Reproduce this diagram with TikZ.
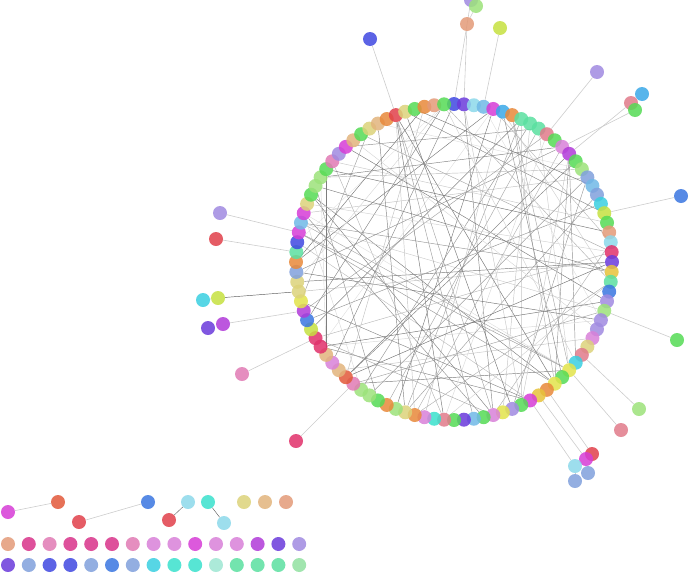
\documentclass[tikz,border=0pt]{standalone}
\usetikzlibrary{backgrounds}
\definecolor{kblu}{HTML}{4048E0}
\definecolor{kbvi}{HTML}{6A3ADB}
\definecolor{klcy}{HTML}{8CD8EA}
\definecolor{ksky}{HTML}{70B8E6}
\definecolor{kmag}{HTML}{D63CD6}
\definecolor{kdsk}{HTML}{3AA8E8}
\definecolor{korg}{HTML}{E8883A}
\definecolor{kaqu}{HTML}{5ADFA0}
\definecolor{kros}{HTML}{E07A8A}
\definecolor{kgrn}{HTML}{55DA55}
\definecolor{korc}{HTML}{D880D8}
\definecolor{kppl}{HTML}{B03AD8}
\definecolor{klgr}{HTML}{9CE27A}
\definecolor{kstb}{HTML}{80A0DC}
\definecolor{kcyn}{HTML}{3ACFE0}
\definecolor{kylg}{HTML}{C6E040}
\definecolor{ksal}{HTML}{E39A78}
\definecolor{kcrm}{HTML}{E0306A}
\definecolor{kgld}{HTML}{E6C23A}
\definecolor{kroy}{HTML}{3A76E0}
\definecolor{klav}{HTML}{A08AE0}
\definecolor{kkha}{HTML}{DCD27A}
\definecolor{kyel}{HTML}{E2E34A}
\definecolor{ktur}{HTML}{3AE0CC}
\definecolor{kpnk}{HTML}{E07AB4}
\definecolor{kror}{HTML}{E2583A}
\definecolor{ktan}{HTML}{E2B47C}
\definecolor{kred}{HTML}{E0404A}
\definecolor{kdpk}{HTML}{D8328A}
\definecolor{kpaq}{HTML}{9EE6D2}
\definecolor{kpgr}{HTML}{90E0A0}
\begin{document}
\begin{tikzpicture}[x=1pt,y=-1pt,
  dot/.style={circle,fill=#1,fill opacity=0.85,draw=none,minimum size=14pt,inner sep=0pt},
  edge/.style={black!#1,line width=0.45pt},
  spoke/.style={black!20,line width=0.6pt}]
\useasboundingbox (0,0) rectangle (692,576);
% ring of genes
\foreach \c [count=\k from 0] in {blu,bvi,lcy,sky,mag,dsk,org,aqu,aqu,aqu,
    ros,grn,orc,ppl,grn,lgr,stb,sky,stb,cyn,ylg,grn,sal,lcy,crm,bvi,gld,aqu,roy,lav,
    lgr,lav,lav,orc,kha,ros,cyn,yel,grn,yel,org,gld,mag,grn,lav,yel,orc,grn,sky,bvi,
    grn,ros,tur,orc,org,kha,lgr,org,grn,lgr,lgr,pnk,ror,tan,orc,tan,crm,crm,ylg,roy,
    ppl,yel,kha,kha,stb,org,aqu,blu,mag,sky,mag,kha,grn,lgr,lgr,grn,pnk,lav,mag,tan,
    grn,kha,tan,org,red,kha,grn,org,sal,grn}
  \node[dot=k\c] (r\k) at ({454+158*cos(3.6*\k-90)},{262+158*sin(3.6*\k-90)}) {};
% outer genes
\node[dot=klav] (o1) at (471,0) {};
\node[dot=klgr] (o2) at (476,6) {};
\node[dot=ksal] (o3) at (467,24) {};
\node[dot=kylg] (o4) at (500,28) {};
\node[dot=kblu] (o5) at (370,39) {};
\node[dot=klav] (o6) at (597,72) {};
\node[dot=kdsk] (o7) at (642,94) {};
\node[dot=kros] (o8) at (631,103) {};
\node[dot=kgrn] (o9) at (635,110) {};
\node[dot=kroy] (o10) at (681,196) {};
\node[dot=kgrn] (o11) at (677,340) {};
\node[dot=klgr] (o12) at (639,409) {};
\node[dot=kros] (o13) at (621,430) {};
\node[dot=kred] (o14) at (592,454) {};
\node[dot=kmag] (o15) at (586,459) {};
\node[dot=klcy] (o16) at (575,466) {};
\node[dot=kstb] (o17) at (588,473) {};
\node[dot=kstb] (o18) at (575,481) {};
\node[dot=kcrm] (o19) at (296,441) {};
\node[dot=kpnk] (o20) at (242,374) {};
\node[dot=klav] (o21) at (220,213) {};
\node[dot=kred] (o22) at (216,239) {};
\node[dot=kcyn] (o23) at (203,300) {};
\node[dot=kylg] (o24) at (218,298) {};
\node[dot=kbvi] (o25) at (208,328) {};
\node[dot=kppl] (o26) at (223,324) {};
% small parts, bottom left
\node[dot=kmag] (b1) at (8,512) {};
\node[dot=kror] (b2) at (58,502) {};
\node[dot=kred] (b3) at (79,522) {};
\node[dot=kroy] (b4) at (148,502) {};
\node[dot=kred] (b5) at (169,520) {};
\node[dot=klcy] (b6) at (188,502) {};
\node[dot=ktur] (b7) at (208,502) {};
\node[dot=klcy] (b8) at (224,523) {};
\node[dot=kkha] (b9) at (244,502) {};
\node[dot=ktan] (b10) at (265,502) {};
\node[dot=ksal] (b11) at (286,502) {};
\foreach \c [count=\i from 0] in {sal,dpk,pnk,dpk,dpk,dpk,pnk,orc,orc,mag,orc,orc,ppl,bvi,lav}
  \node[dot=k\c] (p\i) at (8+20.8*\i,544) {};
\foreach \c [count=\i from 0] in {bvi,stb,blu,blu,stb,roy,stb,cyn,tur,tur,paq,aqu,aqu,aqu,pgr}
  \node[dot=k\c] (q\i) at (8+20.8*\i,565) {};
\begin{pgfonlayer}{background}
% interactions inside the ring
\pgfmathsetseed{42}
\foreach \e in {1,...,95}{
  \pgfmathrandominteger{\a}{0}{99}
  \pgfmathrandominteger{\d}{18}{82}
  \pgfmathtruncatemacro{\b}{mod(\a+\d,100)}
  \pgfmathrandominteger{\g}{10}{55}
  \draw[edge=\g] (r\a) -- (r\b);
}
\draw[spoke] (o1) -- (r0);
\draw[spoke] (o2) -- (o3);
\draw[spoke] (o3) -- (r1);
\draw[spoke] (o4) -- (r3);
\draw[spoke] (o5) -- (r94);
\draw[spoke] (o6) -- (r10);
\draw[spoke] (o8) -- (r13);
\draw[spoke] (o9) -- (r12);
\draw[spoke] (o10) -- (r20);
\draw[spoke] (o11) -- (r30);
\draw[spoke] (o12) -- (r35);
\draw[spoke] (o13) -- (r37);
\draw[spoke] (o14) -- (r40);
\draw[spoke] (o15) -- (r41);
\draw[spoke] (o16) -- (r42);
\draw[spoke] (o16) -- (o18);
\draw[spoke] (o19) -- (r61);
\draw[spoke] (o20) -- (r67);
\draw[spoke] (o21) -- (r78);
\draw[spoke] (o22) -- (r76);
\draw[spoke] (o23) -- (o24);
\draw[edge=65] (o24) -- (r72);
\draw[spoke] (o26) -- (r70);
\draw[spoke] (b1) -- (b2);
\draw[spoke] (b3) -- (b4);
\draw[edge=60] (b5) -- (b6);
\draw[edge=60] (b7) -- (b8);
\end{pgfonlayer}
\end{tikzpicture}
\end{document}
